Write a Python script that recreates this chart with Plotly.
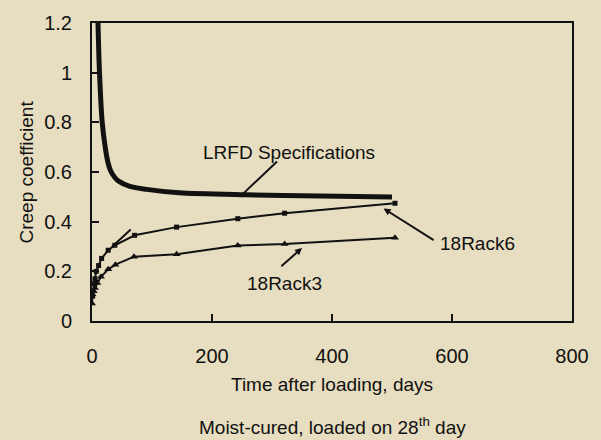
import plotly.graph_objects as go

# Creep coefficient versus time after loading (moist-cured, loaded on day 28)
lrfd_days = [8.5, 10, 12.5, 17, 22, 26, 31, 38, 45, 63, 91, 145, 255, 380, 500]
lrfd_coef = [1.40, 1.20, 1.00, 0.80, 0.70, 0.645, 0.605, 0.578, 0.562, 0.542, 0.53, 0.516, 0.508, 0.503, 0.499]

rack6_days = [1, 3, 5, 7, 11, 16, 27, 38, 71, 141, 243, 321, 505]
rack6_coef = [0.10, 0.15, 0.17, 0.20, 0.223, 0.252, 0.285, 0.305, 0.345, 0.378, 0.412, 0.434, 0.474]

rack3_days = [0, 1, 3, 5, 9, 15, 27, 39, 70, 141, 243, 321, 505]
rack3_coef = [0.07, 0.107, 0.12, 0.133, 0.153, 0.178, 0.208, 0.227, 0.259, 0.269, 0.304, 0.310, 0.335]

x_ticks = [0, 200, 400, 600, 800]
y_ticks = [0, 0.2, 0.4, 0.6, 0.8, 1.0, 1.2]
y_tick_text = ["0", "0.2", "0.4", "0.6", "0.8", "1", "1.2"]

BG = "rgb(231,221,192)"
INK = "#111111"
FONT = "Liberation Sans, Arial, Helvetica, sans-serif"

fig = go.Figure()

fig.add_trace(go.Scatter(
    x=lrfd_days, y=lrfd_coef, mode="lines",
    line=dict(color=INK, width=5, shape="spline", smoothing=0.8),
    name="LRFD Specifications", cliponaxis=True))

fig.add_trace(go.Scatter(
    x=rack6_days, y=rack6_coef, mode="lines+markers",
    line=dict(color=INK, width=2),
    marker=dict(symbol="square", size=5, color=INK),
    name="18Rack6"))

fig.add_trace(go.Scatter(
    x=rack3_days, y=rack3_coef, mode="lines+markers",
    line=dict(color=INK, width=2),
    marker=dict(symbol="triangle-up", size=7, color=INK),
    name="18Rack3"))

annotations = [
    # series labels with leader lines
    dict(x=329, y=0.68, text="LRFD Specifications", showarrow=False),
    dict(x=252, y=0.513, ax=311, ay=0.648, axref="x", ayref="y", text="",
         showarrow=True, arrowhead=0, arrowwidth=2, arrowcolor=INK),
    dict(x=320, y=0.151, text="18Rack3", showarrow=False),
    dict(x=350, y=0.294, ax=313, ay=0.215, axref="x", ayref="y", text="",
         showarrow=True, arrowhead=2, arrowsize=0.7, arrowwidth=2, arrowcolor=INK),
    dict(x=643, y=0.314, text="18Rack6", showarrow=False),
    dict(x=486, y=0.453, ax=572, ay=0.322, axref="x", ayref="y", text="",
         showarrow=True, arrowhead=2, arrowsize=0.7, arrowwidth=2, arrowcolor=INK),
    dict(x=33, y=0.298, ax=67, ay=0.374, axref="x", ayref="y", text="",
         showarrow=True, arrowhead=0, arrowwidth=2, arrowcolor=INK),
    # axis titles and caption
    dict(xref="paper", yref="paper", x=0.5, y=-0.212, text="Time after loading, days",
         showarrow=False, yanchor="middle"),
    dict(xref="paper", yref="paper", x=0.5, y=-0.352, text="Moist-cured, loaded on 28<sup>th</sup> day",
         showarrow=False, yanchor="middle"),
    dict(xref="paper", yref="paper", x=-0.1385, y=0.5, text="Creep coefficient",
         textangle=-90, showarrow=False, xanchor="center", yanchor="middle"),
]

fig.update_layout(
    width=601, height=440,
    margin=dict(l=92, r=18, t=19, b=119),
    paper_bgcolor=BG, plot_bgcolor=BG,
    showlegend=False,
    font=dict(family=FONT, size=19, color=INK),
    annotations=annotations,
)

fig.update_xaxes(
    range=[0, 800], tickvals=x_ticks, ticks="inside", ticklen=7, tickwidth=2, tickcolor=INK,
    showline=True, linecolor=INK, linewidth=2, mirror=True, showgrid=False, zeroline=False,
    ticklabelstandoff=16, tickfont=dict(size=20),
)
fig.update_yaxes(
    range=[0, 1.2], tickvals=y_ticks, ticktext=y_tick_text, ticks="inside", ticklen=7, tickwidth=2,
    tickcolor=INK, showline=True, linecolor=INK, linewidth=2, mirror=True, showgrid=False,
    zeroline=False, ticklabelstandoff=14, tickfont=dict(size=20),
)

fig.write_html("out.html")
